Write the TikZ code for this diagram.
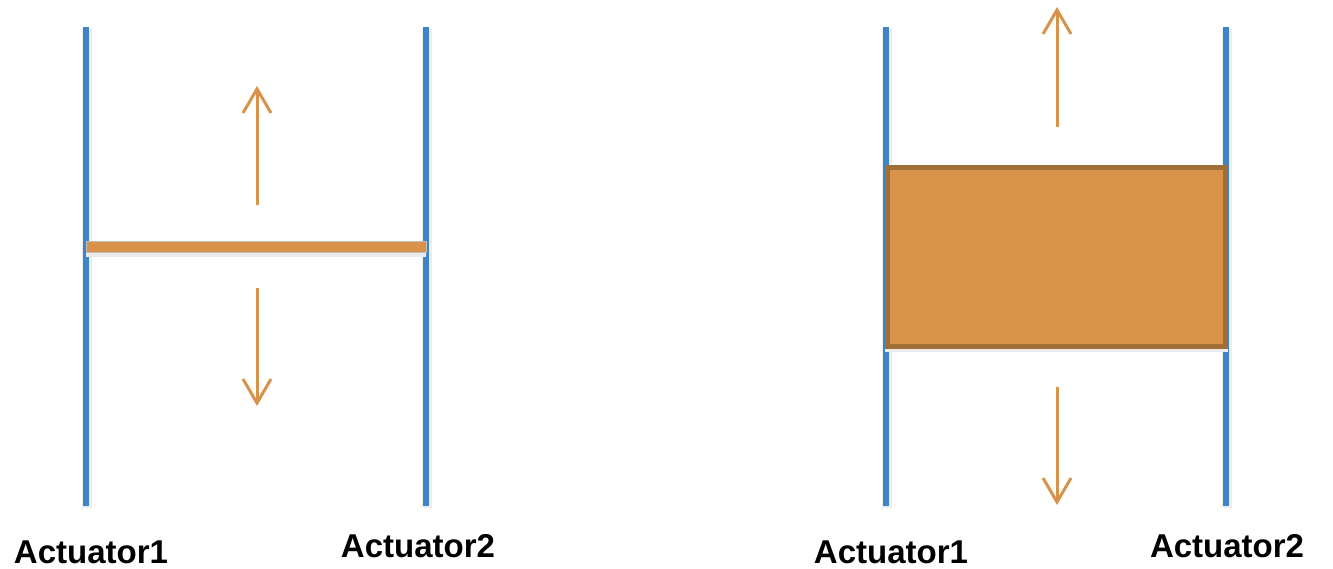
\documentclass[tikz,border=0pt]{standalone}
\usepackage{fontspec}
\setmainfont{Liberation Sans}
\usetikzlibrary{arrows.meta}
\definecolor{actblue}{RGB}{61,133,198}
\definecolor{plate}{RGB}{216,146,73}
\definecolor{plateedge}{RGB}{160,110,55}
\tikzset{
  actline/.style={actblue, line width=6pt},
  movearrow/.style={plate, line width=3pt, -{Straight Barb[length=24pt,width=28pt,line width=3pt]}},
  lbl/.style={font=\bfseries\fontsize{33}{40}\selectfont, inner sep=0pt, anchor=base},
  shadowline/.style={black!7, line width=10pt}
}
\begin{document}
\begin{tikzpicture}[x=1pt,y=-1pt]
\useasboundingbox (0,0) rectangle (1333,569);
% left panel
\coordinate (l1t) at (86,27); \coordinate (l1b) at (86,506);
\coordinate (l2t) at (426,27); \coordinate (l2b) at (426,506);
\draw[shadowline] (87,29) -- (87,508);
\draw[shadowline] (427,29) -- (427,508);
\draw[actline] (l1t) -- (l1b);
\draw[actline] (l2t) -- (l2b);
\fill[black!8] (86,249) rectangle (426,257);
\filldraw[fill=plate, draw=black!25, line width=0.6pt] (86,241) rectangle (426,252);
\coordinate (lu0) at (257,205); \coordinate (lu1) at (257,86);
\coordinate (ld0) at (257,288); \coordinate (ld1) at (257,406);
\draw[movearrow] (lu0) -- (lu1);
\draw[movearrow] (ld0) -- (ld1);
\node[lbl] (la1) at (91,563) {Actuator1};
\node[lbl] (la2) at (418,557) {Actuator2};
% right panel
\coordinate (r1t) at (886,27); \coordinate (r1b) at (886,506);
\coordinate (r2t) at (1226,27); \coordinate (r2b) at (1226,506);
\draw[shadowline] (887,29) -- (887,508);
\draw[shadowline] (1227,29) -- (1227,508);
\draw[actline] (r1t) -- (r1b);
\draw[actline] (r2t) -- (r2b);
\fill[black!8] (885,346) rectangle (1228,352);
\filldraw[fill=plate, draw=plateedge, line width=5pt] (887.5,167.5) rectangle (1225.5,346);
\coordinate (ru0) at (1057,127); \coordinate (ru1) at (1057,7);
\coordinate (rd0) at (1057,387); \coordinate (rd1) at (1057,505);
\draw[movearrow] (ru0) -- (ru1);
\draw[movearrow] (rd0) -- (rd1);
\node[lbl] (ra1) at (891,563) {Actuator1};
\node[lbl] (ra2) at (1227,557) {Actuator2};
\end{tikzpicture}
\end{document}
